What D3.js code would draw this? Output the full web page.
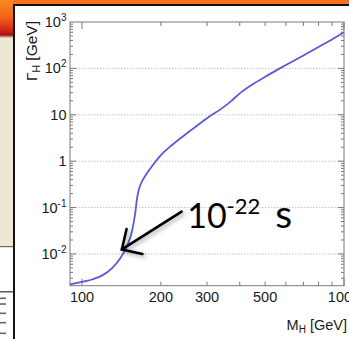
<!DOCTYPE html>
<html>
<head>
<meta charset="utf-8">
<script src="https://cdn.jsdelivr.net/npm/d3@7"></script>
<style>
  body { margin: 0; background: #fff; }
  svg { display: block; }
</style>
</head>
<body>
<svg id="chart" width="349" height="339"></svg>
<script>
// Higgs total width vs mass
var masses = [90, 100, 110, 120, 130, 140, 150, 155, 160, 162, 165, 170, 175, 180, 190, 200, 220, 250, 280, 300, 350, 370, 400, 450, 500, 600, 700, 800, 900, 1000];
var widths = [0.0022, 0.0025, 0.00285, 0.0035, 0.0049, 0.0081, 0.017, 0.03, 0.083, 0.15, 0.25, 0.38, 0.5, 0.63, 0.95, 1.35, 2.2, 3.9, 6.3, 8.4, 15.2, 19.5, 29, 46, 66, 118, 190, 290, 420, 600];

var xTicks = [100, 200, 300, 400, 500, 600, 700, 800, 900, 1000];
var xTickLabels = ["100", "200", "300", "", "500", "", "", "", "", "1000"];
var xMajor = [100, 1000];
var yDecades = [-2, -1, 0, 1, 2, 3];

var xTitle = "M", xTitleSub = "H", xTitleRest = " [GeV]";
var yTitle = "\u0393", yTitleSub = "H", yTitleRest = " [GeV]";

// annotation: arrow tail/tip and text anchor in data units
var arrowTail = [240, 0.082];
var arrowTip = [142, 0.0125];
var noteAt = [252, 0.037];

var box = {left: 70, top: 22, right: 344, bottom: 285.7};

var svg = d3.select("#chart");

var x = d3.scaleLog().domain([90, 1000]).range([box.left, box.right]);
var y = d3.scaleLog().domain([0.00207, 1000]).range([box.bottom, box.top]);

// ---- slide decoration around the picture ----
var defs = svg.append("defs");
var g1 = defs.append("linearGradient").attr("id", "corner").attr("x1", 0).attr("y1", 0).attr("x2", 0).attr("y2", 1);
g1.append("stop").attr("offset", "0%").attr("stop-color", "#f88a24");
g1.append("stop").attr("offset", "45%").attr("stop-color", "#f26418");
g1.append("stop").attr("offset", "80%").attr("stop-color", "#d42418");
g1.append("stop").attr("offset", "92%").attr("stop-color", "#a01410");
g1.append("stop").attr("offset", "100%").attr("stop-color", "#f0e0c8");
var sh = defs.append("filter").attr("id", "shadow").attr("x", "-30%").attr("y", "-30%").attr("width", "160%").attr("height", "160%");
sh.append("feDropShadow").attr("dx", 2).attr("dy", 2).attr("stdDeviation", 2).attr("flood-color", "#000").attr("flood-opacity", 0.35);

svg.append("rect").attr("width", 349).attr("height", 339).attr("fill", "#fff");
svg.append("rect").attr("x", 0).attr("y", 0).attr("width", 13).attr("height", 246).attr("fill", "#ede8d4");
svg.append("rect").attr("x", 0).attr("y", 0).attr("width", 13).attr("height", 38).attr("fill", "url(#corner)");
svg.append("rect").attr("x", 13).attr("y", 0).attr("width", 336).attr("height", 4.5).attr("fill", "#f8701c");
svg.append("line").attr("x1", 0).attr("x2", 13).attr("y1", 246.6).attr("y2", 246.6).attr("stroke", "#666").attr("stroke-width", 1.2);
svg.append("line").attr("x1", 0).attr("x2", 13).attr("y1", 291.8).attr("y2", 291.8).attr("stroke", "#333").attr("stroke-width", 1.2);
[298.3, 304, 313.3, 322.7, 333.3].forEach(function(v) {
  svg.append("line").attr("x1", 0).attr("x2", 6).attr("y1", v).attr("y2", v).attr("stroke", "#666").attr("stroke-width", 1.6);
});
svg.append("line").attr("x1", 14).attr("x2", 14).attr("y1", 4).attr("y2", 339).attr("stroke", "#111").attr("stroke-width", 2);
svg.append("line").attr("x1", 13).attr("x2", 349).attr("y1", 5).attr("y2", 5).attr("stroke", "#111").attr("stroke-width", 2);

// ---- grid ----
var plot = svg.append("g");
plot.selectAll(".grid").data(yDecades.slice(0, -1)).enter().append("line")
  .attr("x1", box.left).attr("x2", box.right)
  .attr("y1", function(d) { return y(Math.pow(10, d)); })
  .attr("y2", function(d) { return y(Math.pow(10, d)); })
  .attr("stroke", "#c4c4c4").attr("stroke-dasharray", "1.5,1.5").attr("stroke-width", 1);

// ---- ticks ----
var yMinor = [];
for (var d = -3; d < 3; d++) {
  for (var k = 1; k < 10; k++) {
    var v = k * Math.pow(10, d);
    if (v >= y.domain()[0] && v <= y.domain()[1]) yMinor.push({v: v, major: k === 1});
  }
}
var tickColor = "#7a7a7a";
[box.left, box.right].forEach(function(edge, i) {
  var dir = i === 0 ? 1 : -1;
  plot.selectAll(null).data(yMinor).enter().append("line")
    .attr("x1", edge).attr("x2", function(t) { return edge + dir * (t.major ? 6 : 3); })
    .attr("y1", function(t) { return y(t.v); }).attr("y2", function(t) { return y(t.v); })
    .attr("stroke", tickColor).attr("stroke-width", 1);
});
[box.bottom, box.top].forEach(function(edge, i) {
  var dir = i === 0 ? -1 : 1;
  plot.selectAll(null).data(xTicks).enter().append("line")
    .attr("y1", edge).attr("y2", function(t) { return edge + dir * (xMajor.indexOf(t) >= 0 ? 7 : 4); })
    .attr("x1", function(t) { return x(t); }).attr("x2", function(t) { return x(t); })
    .attr("stroke", tickColor).attr("stroke-width", 1);
});

plot.append("rect").attr("x", box.left).attr("y", box.top)
  .attr("width", box.right - box.left).attr("height", box.bottom - box.top)
  .attr("fill", "none").attr("stroke", tickColor).attr("stroke-width", 1);

// ---- tick labels ----
var font = "'Liberation Sans', Arial, Helvetica, sans-serif";
plot.selectAll(".xl").data(xTicks).enter().append("text")
  .attr("x", function(t) { return x(t); }).attr("y", 302)
  .attr("text-anchor", "middle").attr("font-family", font).attr("font-size", 14.5).attr("fill", "#1a1a1a")
  .text(function(t, i) { return xTickLabels[i]; });

var yl = plot.selectAll(".yl").data(yDecades).enter().append("text")
  .attr("x", 66.5).attr("y", function(d) { return y(Math.pow(10, d)) + 5; })
  .attr("text-anchor", "end").attr("font-family", font).attr("font-size", 14.5).attr("fill", "#1a1a1a");
yl.each(function(d) {
  var t = d3.select(this);
  if (d === 0) { t.text("1"); return; }
  t.append("tspan").text("10");
  if (d !== 1) t.append("tspan").attr("font-size", 10).attr("dy", -6).text(String(d));
});

// ---- axis titles ----
var xt = plot.append("text").attr("x", 347).attr("y", 330).attr("text-anchor", "end")
  .attr("font-family", font).attr("font-size", 14.5).attr("fill", "#1a1a1a");
xt.append("tspan").text(xTitle);
xt.append("tspan").attr("font-size", 10).attr("dy", 3).text(xTitleSub);
xt.append("tspan").attr("dy", -3).text(xTitleRest);

var yt = plot.append("text").attr("transform", "translate(37,21) rotate(-90)").attr("text-anchor", "end")
  .attr("font-family", font).attr("font-size", 15.5).attr("fill", "#1a1a1a");
yt.append("tspan").text(yTitle);
yt.append("tspan").attr("font-size", 10.5).attr("dy", 3).text(yTitleSub);
yt.append("tspan").attr("dy", -3).text(yTitleRest);

// ---- curve ----
var line = d3.line()
  .x(function(d, i) { return x(masses[i]); })
  .y(function(d) { return y(d); })
  .curve(d3.curveMonotoneX);
plot.append("path").datum(widths).attr("d", line)
  .attr("fill", "none").attr("stroke", "#5a5ad8").attr("stroke-width", 1.8);

// ---- annotation ----
var ax1 = x(arrowTail[0]), ay1 = y(arrowTail[1]);
var ax2 = x(arrowTip[0]), ay2 = y(arrowTip[1]);
var ang = Math.atan2(ay1 - ay2, ax1 - ax2);
var barb = 21, spread = 0.78;
var arrow = svg.append("g").attr("filter", "url(#shadow)")
  .attr("stroke", "#000").attr("stroke-width", 2.6).attr("fill", "none").attr("stroke-linecap", "round");
arrow.append("line").attr("x1", ax1).attr("y1", ay1).attr("x2", ax2).attr("y2", ay2);
arrow.append("path").attr("d",
  "M" + (ax2 + barb * Math.cos(ang + spread)) + "," + (ay2 + barb * Math.sin(ang + spread)) +
  "L" + ax2 + "," + ay2 +
  "L" + (ax2 + barb * Math.cos(ang - spread)) + "," + (ay2 + barb * Math.sin(ang - spread)));

var note = svg.append("text").attr("x", x(noteAt[0])).attr("y", y(noteAt[1]))
  .attr("font-family", "Lato, 'Open Sans', sans-serif").attr("fill", "#000");
note.append("tspan").attr("font-size", 34).text("10");
note.append("tspan").attr("font-size", 22).attr("dy", -14).text("-22");
note.append("tspan").attr("font-size", 39).attr("dy", 14).attr("dx", 5).text(" s");
</script>
</body>
</html>
